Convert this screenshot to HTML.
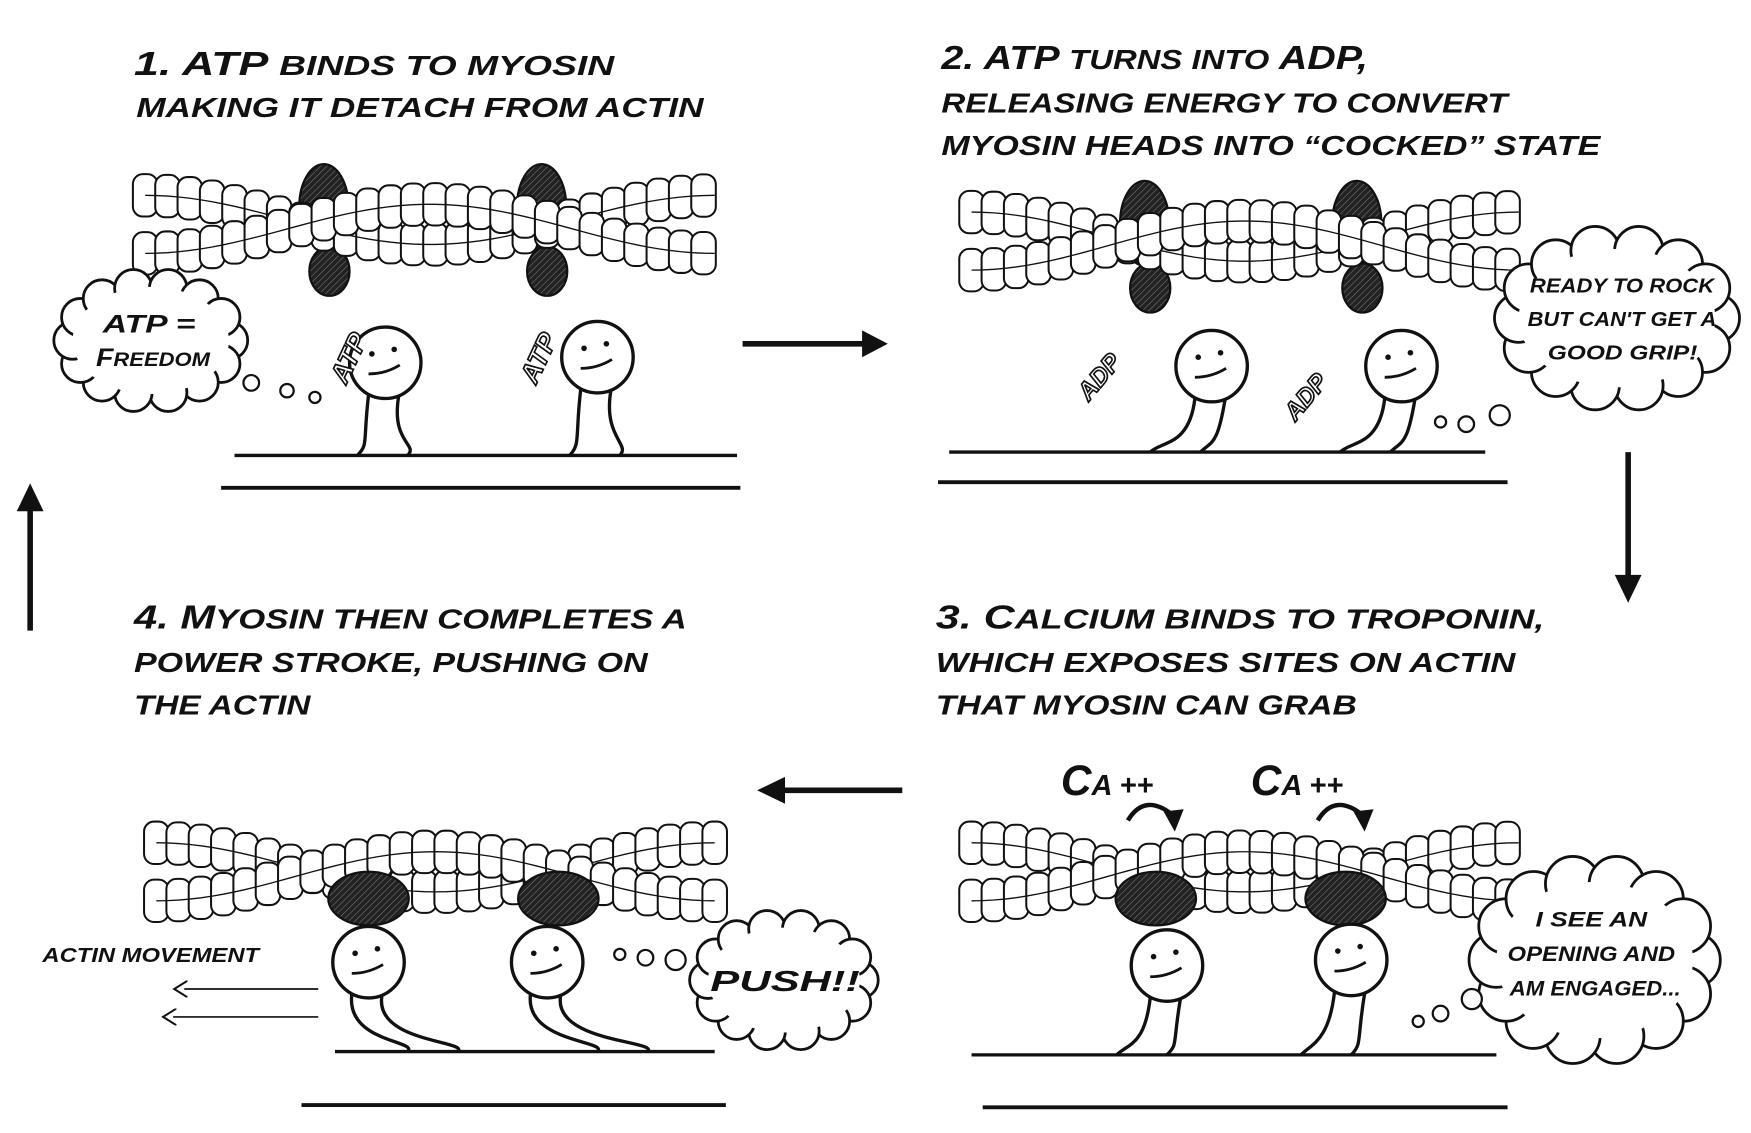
<!DOCTYPE html>
<html><head><meta charset="utf-8"><style>
html,body{margin:0;padding:0;background:#fff;}
svg{display:block;}
.t{font-family:"Liberation Sans",sans-serif;font-style:italic;font-weight:bold;fill:#111;}
</style></head><body>
<svg id="s" width="1751" height="1133" viewBox="0 0 1568 1015" preserveAspectRatio="none" xmlns="http://www.w3.org/2000/svg">
<defs>
<pattern id="h" width="4" height="4" patternUnits="userSpaceOnUse" patternTransform="rotate(45)"><rect width="4" height="4" fill="#222"/><line x1="0" y1="0" x2="0" y2="4" stroke="#777" stroke-width="1"/></pattern>
<marker id="oa" markerWidth="10" markerHeight="10" refX="2" refY="5" orient="auto"><path d="M0,0 L8,5 L0,10" fill="none" stroke="#111" stroke-width="1.2"/></marker>
</defs>
<rect width="1568" height="1015" fill="#fff"/>
<g class="t" font-size="30">
<text x="120" y="67" textLength="430" lengthAdjust="spacingAndGlyphs">1. ATP <tspan font-size="25">BINDS TO MYOSIN</tspan></text>
<text x="122" y="105" font-size="25" textLength="508" lengthAdjust="spacingAndGlyphs">MAKING IT DETACH FROM ACTIN</text>
<text x="843" y="62" textLength="382" lengthAdjust="spacingAndGlyphs">2. ATP <tspan font-size="25">TURNS INTO</tspan> ADP,</text>
<text x="843" y="101" font-size="25" textLength="507" lengthAdjust="spacingAndGlyphs">RELEASING ENERGY TO CONVERT</text>
<text x="843" y="139" font-size="25" textLength="590" lengthAdjust="spacingAndGlyphs">MYOSIN HEADS INTO “COCKED” STATE</text>
<text x="120" y="563" textLength="495" lengthAdjust="spacingAndGlyphs">4. M<tspan font-size="25">YOSIN THEN COMPLETES A</tspan></text>
<text x="120" y="602" font-size="25" textLength="460" lengthAdjust="spacingAndGlyphs">POWER STROKE, PUSHING ON</text>
<text x="120" y="640" font-size="25" textLength="158" lengthAdjust="spacingAndGlyphs">THE ACTIN</text>
<text x="838" y="563" textLength="545" lengthAdjust="spacingAndGlyphs">3. C<tspan font-size="25">ALCIUM BINDS TO TROPONIN,</tspan></text>
<text x="838" y="602" font-size="25" textLength="519" lengthAdjust="spacingAndGlyphs">WHICH EXPOSES SITES ON ACTIN</text>
<text x="838" y="640" font-size="25" textLength="377" lengthAdjust="spacingAndGlyphs">THAT MYOSIN CAN GRAB</text>
<text x="950" y="712" font-size="38">C<tspan font-size="26">A ++</tspan></text>
<text x="1120" y="712" font-size="38">C<tspan font-size="26">A ++</tspan></text>
<text x="38" y="862" font-size="18" textLength="194" lengthAdjust="spacingAndGlyphs">ACTIN MOVEMENT</text>
</g>
<g id="fil"></g>
<g stroke="#111" stroke-width="5" fill="none">
<line x1="665" y1="308" x2="775" y2="308"/><path d="M772,296 L795,308 L772,320z" fill="#111" stroke="none"/>
<line x1="1458" y1="405" x2="1458" y2="518"/><path d="M1446,515 L1458,540 L1470,515z" fill="#111" stroke="none"/>
<line x1="808" y1="708" x2="700" y2="708"/><path d="M703,696 L678,708 L703,720z" fill="#111" stroke="none"/>
<line x1="27" y1="565" x2="27" y2="455"/><path d="M15,458 L27,433 L39,458z" fill="#111" stroke="none"/>
</g>
<g stroke="#111" stroke-width="3.5" fill="none">
<line x1="198" y1="437" x2="663" y2="437"/>
<line x1="840" y1="432" x2="1350" y2="432"/>
<line x1="270" y1="990" x2="650" y2="990"/>
<line x1="880" y1="992" x2="1350" y2="992"/>
</g>
<g stroke="#111" stroke-width="1.5" fill="none">
<line x1="285" y1="886" x2="165" y2="886" marker-end="url(#oa)"/>
<line x1="285" y1="911" x2="155" y2="911" marker-end="url(#oa)"/>
</g>
<g id="heads"></g>
<g id="lab" class="t" font-size="22">
<text x="92" y="298" textLength="83" lengthAdjust="spacingAndGlyphs">ATP =</text><text x="86" y="328" textLength="102" lengthAdjust="spacingAndGlyphs">F<tspan font-size="17">REEDOM</tspan></text>
<text x="1370" y="262" font-size="18" textLength="165" lengthAdjust="spacingAndGlyphs">READY TO ROCK</text><text x="1368" y="292" font-size="18" textLength="169" lengthAdjust="spacingAndGlyphs">BUT CAN'T GET A</text><text x="1386" y="322" font-size="18" textLength="134" lengthAdjust="spacingAndGlyphs">GOOD GRIP!</text>
<text x="1375" y="830" font-size="19" textLength="100" lengthAdjust="spacingAndGlyphs">I SEE AN</text><text x="1350" y="861" font-size="19" textLength="150" lengthAdjust="spacingAndGlyphs">OPENING AND</text><text x="1352" y="892" font-size="19" textLength="153" lengthAdjust="spacingAndGlyphs">AM ENGAGED...</text>
<text x="636" y="888" font-size="26" textLength="134" lengthAdjust="spacingAndGlyphs">PUSH!!</text>
<text transform="translate(310,345) rotate(-65)" font-size="24" fill="#fff" stroke="#111" stroke-width="1.5">ATP</text>
<text transform="translate(480,345) rotate(-65)" font-size="24" fill="#fff" stroke="#111" stroke-width="1.5">ATP</text>
<text transform="translate(975,360) rotate(-50)" font-size="22" fill="#fff" stroke="#111" stroke-width="1.5">ADP</text>
<text transform="translate(1160,378) rotate(-50)" font-size="22" fill="#fff" stroke="#111" stroke-width="1.5">ADP</text>
</g>
</svg>
<script>
var NS="http://www.w3.org/2000/svg",fil=document.getElementById('fil'),hd=document.getElementById('heads');
function el(p,t,a){var e=document.createElementNS(NS,t);for(var k in a)e.setAttribute(k,a[k]);p.appendChild(e);return e;}
function filament(x0,x1,yc,blobs,cocked){
 for(var b of blobs){el(fil,'ellipse',{cx:b,cy:yc-(cocked?0:20),rx:22,ry:cocked?22:38,fill:'url(#h)',stroke:'#111','stroke-width':2});
  if(!cocked)el(fil,'ellipse',{cx:b+5,cy:yc+38,rx:18,ry:22,fill:'url(#h)',stroke:'#111','stroke-width':2});}
 for(var s=0;s<2;s++){for(var x=x0;x<=x1;x+=20){var ph=(x-x0)/(x1-x0)*Math.PI*2;var y=yc+(s?1:-1)*22*Math.cos(ph)-8+(s?8:0);
  el(fil,'rect',{x:x-11,y:y-19,width:22,height:38,rx:9,fill:'#fff',stroke:'#111','stroke-width':1.8});}
  var d='';for(var x=x0;x<=x1;x+=10){var ph=(x-x0)/(x1-x0)*Math.PI*2;var y=yc+(s?1:-1)*22*Math.cos(ph)-8+(s?8:0);d+=(d?'L':'M')+x+','+y;}
  el(fil,'path',{d:d,fill:'none',stroke:'#111','stroke-width':1.2});}
 if(cocked)for(var b of blobs){el(fil,'ellipse',{cx:b,cy:yc+20,rx:36,ry:24,fill:'url(#h)',stroke:'#111','stroke-width':2});}
}
filament(130,640,205,[290,485],false);
filament(870,1360,220,[1025,1215],false);
filament(870,1360,785,[1035,1205],true);
filament(140,640,785,[330,500],true);
function head(cx,cy,r,bx,base){
 el(hd,'path',{d:`M${cx-15},${cy+r-3} C${cx-20},${cy+r+40} ${bx-30},${base-10} ${bx-40},${base}`,fill:'none',stroke:'#111','stroke-width':3});
 el(hd,'path',{d:`M${cx+12},${cy+r-2} C${cx+5},${cy+r+40} ${bx+15},${base-10} ${bx+5},${base}`,fill:'none',stroke:'#111','stroke-width':3});
 el(hd,'circle',{cx:cx,cy:cy,r:r,fill:'#fff',stroke:'#111','stroke-width':3});
 el(hd,'path',{d:`M${cx-15},${cy+10} q15,0 28,-8`,fill:'none',stroke:'#111','stroke-width':2.5});
 el(hd,'circle',{cx:cx-12,cy:cy-8,r:2.5,fill:'#111'});el(hd,'circle',{cx:cx+8,cy:cy-12,r:2.5,fill:'#111'});
}
function base(x1,x2,y){el(hd,'line',{x1:x1,y1:y,x2:x2,y2:y,stroke:'#111','stroke-width':3});}
base(210,660,408);head(345,325,32,360,408);head(535,320,32,550,408);
base(850,1330,405);head(1085,328,32,1070,405);head(1255,328,32,1240,405);
base(870,1340,945);head(1045,865,32,1040,945);head(1210,860,32,1205,945);
base(300,640,942);head(330,862,32,405,942);head(490,862,32,575,942);
[[1010,1050],[1180,1220]].forEach(a=>{el(hd,'path',{d:`M${a[0]},735 q15,-25 40,-5`,fill:'none',stroke:'#111','stroke-width':4});el(hd,'path',{d:`M${a[1]-8},727 L${a[1]+2},${745} L${a[1]+10},725z`,fill:'#111'});});
function cloud(cx,cy,rx,ry){var n=14;for(var i=0;i<n;i++){var a=i/n*2*Math.PI;var x=cx+rx*Math.cos(a),y=cy+ry*Math.sin(a);el(hd,'circle',{cx:x,cy:y,r:Math.min(rx,ry)*0.35,fill:'#fff',stroke:'#111','stroke-width':2.5});}
 el(hd,'ellipse',{cx:cx,cy:cy,rx:rx,ry:ry,fill:'#fff'});}
cloud(135,305,70,48);cloud(1448,285,88,62);cloud(1428,860,88,70);cloud(702,878,68,47);
[[225,343,7],[257,350,6],[282,356,5],[1290,378,5],[1313,380,7],[1343,372,9],[1270,915,5],[1290,908,7],[1318,895,9],[555,855,5],[578,858,7],[605,860,9]].forEach(c=>el(hd,'circle',{cx:c[0],cy:c[1],r:c[2],fill:'#fff',stroke:'#111','stroke-width':2}));
var s=document.getElementById('s');s.appendChild(document.getElementById('lab'));
</script>
</body></html>
